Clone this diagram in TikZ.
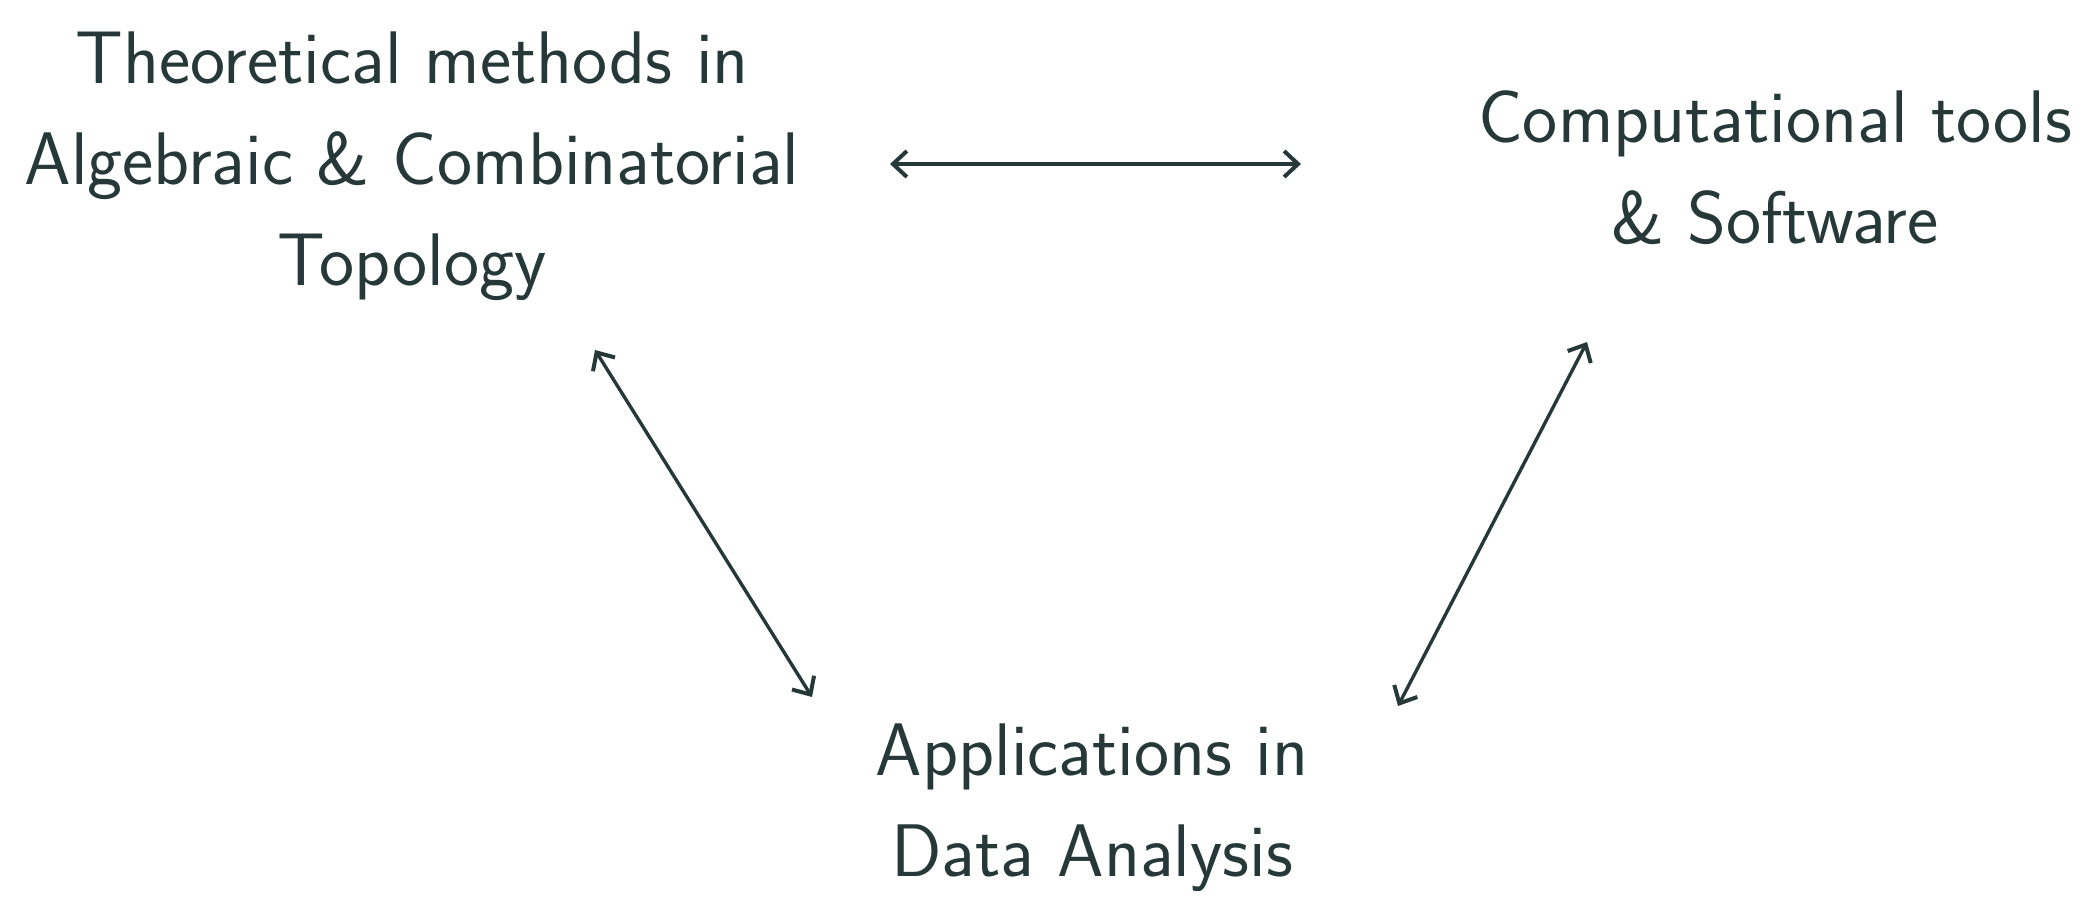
\documentclass[tikz,border=0pt]{standalone}
\usetikzlibrary{arrows.meta}
\definecolor{ink}{HTML}{263838}
\begin{document}
\begin{tikzpicture}[x=1pt,y=-1pt,
  lbl/.style={text=ink,align=center,font=\sffamily\fontsize{74.5}{101}\selectfont,inner sep=0pt},
  tip/.style={},
  link/.style={draw=ink,line width=3.4pt,{Straight Barb[length=14pt,width=26pt,line width=4pt]}-{Straight Barb[length=14pt,width=26pt,line width=4pt]}}]
\path[use as bounding box] (0,0) rectangle (2079,916);
\node[lbl] (theory) at (412,166) {Theoretical methods in\\Algebraic \& Combinatorial\\Topology};
\node[lbl] (comp) at (1775,168) {Computational tools\\\& Software};
\node[lbl] (app) at (1092,808) {Applications in\\Data Analysis};
\coordinate (h1) at (890,164);
\coordinate (h2) at (1301,164);
\coordinate (l1) at (595,350);
\coordinate (l2) at (812,697);
\coordinate (r1) at (1587,342);
\coordinate (r2) at (1398,706);
\draw[link] (h1) -- (h2);
\draw[link] (l1) -- (l2);
\draw[link] (r1) -- (r2);
\end{tikzpicture}
\end{document}
